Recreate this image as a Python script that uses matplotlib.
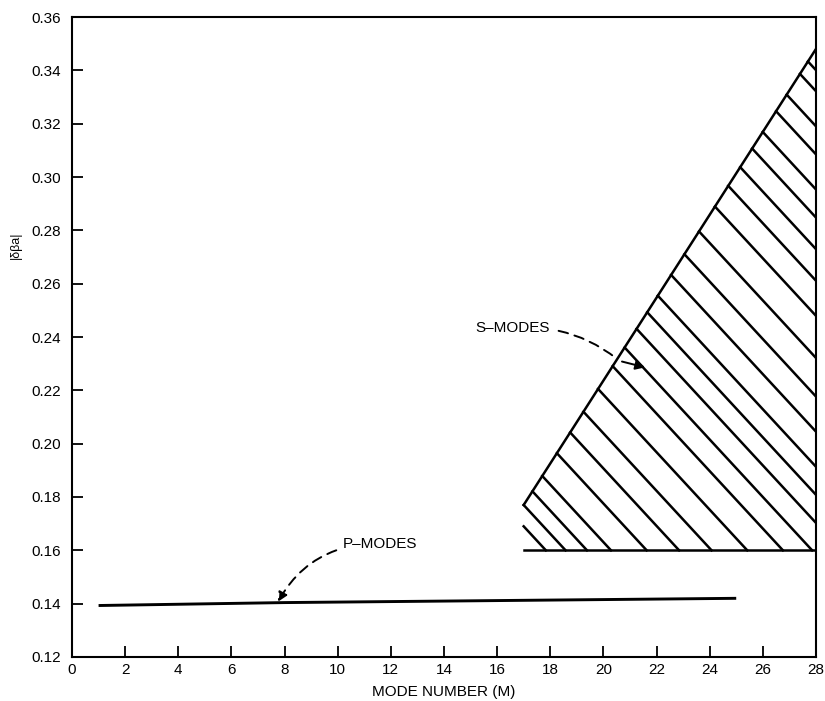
import numpy as np
import matplotlib.pyplot as plt

# P-modes curve
p_mode_x = [1, 8, 25]
p_mode_y = [0.1393, 0.1404, 0.1420]

# S-modes region: upper edge from corner to right axis, base line
s_edge_x = [17.0, 28.0]
s_edge_y = [0.177, 0.348]
s_base_y = 0.16
# where each hatch line leaves the upper edge (x values)
hatch_start_x = [17.0, 17.33, 17.7, 18.25, 18.75, 19.25, 19.8, 20.35, 20.8,
                 21.25, 21.65, 22.05, 22.55, 23.05, 23.6, 24.2, 24.7, 25.15,
                 25.6, 26.0, 26.5, 26.9, 27.4, 27.7]
hatch_slope = -0.01078  # data units of y per unit of x
stub_start = (17.0, 0.169)

xticks = list(range(0, 29, 2))
yticks = [0.12, 0.14, 0.16, 0.18, 0.20, 0.22, 0.24, 0.26, 0.28, 0.30, 0.32, 0.34, 0.36]

plt.rcParams['font.family'] = ['Liberation Sans', 'DejaVu Sans']

fig = plt.figure(figsize=(8.25, 7.01), dpi=100)
ax = fig.add_axes([0.0873, 0.0628, 0.9017, 0.9129])

lw = 1.8
ax.plot(p_mode_x, p_mode_y, color='black', lw=2.1, solid_capstyle='butt')

# S-modes hatched region
ax.plot(s_edge_x, s_edge_y, color='black', lw=lw)
ax.plot([s_edge_x[0], 28], [s_base_y, s_base_y], color='black', lw=lw)

edge_k = (s_edge_y[1] - s_edge_y[0]) / (s_edge_x[1] - s_edge_x[0])
for xs in hatch_start_x:
    ys = s_edge_y[0] + edge_k * (xs - s_edge_x[0])
    xe = xs + (ys - s_base_y) / -hatch_slope
    if xe > 28:
        xe = 28
    ye = ys + hatch_slope * (xe - xs)
    ax.plot([xs, xe], [ys, ye], color='black', lw=lw)

xs, ys = stub_start
ax.plot([xs, xs + (ys - s_base_y) / -hatch_slope], [ys, s_base_y], color='black', lw=lw)

# annotations
dash = (0, (5, 3.5))
ax.annotate('P\u2013MODES', xy=(7.75, 0.1407), xytext=(10.2, 0.1624),
            fontsize=11, va='center', ha='left',
            arrowprops=dict(arrowstyle='-|>', color='black', lw=1.4, linestyle=dash,
                            connectionstyle='arc3,rad=0.3', shrinkA=3, shrinkB=0,
                            mutation_scale=14))
ax.annotate('S\u2013MODES', xy=(20.5, 0.2319), xytext=(15.2, 0.2432),
            fontsize=11, va='center', ha='left',
            arrowprops=dict(arrowstyle='-', color='black', lw=1.4, linestyle=dash,
                            connectionstyle='arc3,rad=-0.2', shrinkA=4, shrinkB=0))
ax.annotate('', xy=(21.57, 0.2286), xytext=(20.7, 0.2308),
            arrowprops=dict(arrowstyle='-|>', color='black', lw=1.4,
                            shrinkA=0, shrinkB=0, mutation_scale=14))

ax.set_xlim(0, 28)
ax.set_ylim(0.12, 0.36)
ax.set_xticks(xticks)
ax.set_yticks(yticks)
ax.set_xticklabels([str(t) for t in xticks])
ax.set_yticklabels([f'{t:.2f}' for t in yticks])
ax.tick_params(direction='in', length=8, width=1.3, labelsize=11, top=False, right=False)
ax.tick_params(axis='x', pad=4)
ax.tick_params(axis='y', pad=8)
for s in ax.spines.values():
    s.set_linewidth(1.5)

ax.set_xlabel('MODE NUMBER (M)', fontsize=11, labelpad=6)
ax.set_ylabel('|\u03b4\u03b2a|', fontsize=9)
ax.yaxis.set_label_coords(-0.068, 0.644)

fig.savefig('out.png', dpi=100)
